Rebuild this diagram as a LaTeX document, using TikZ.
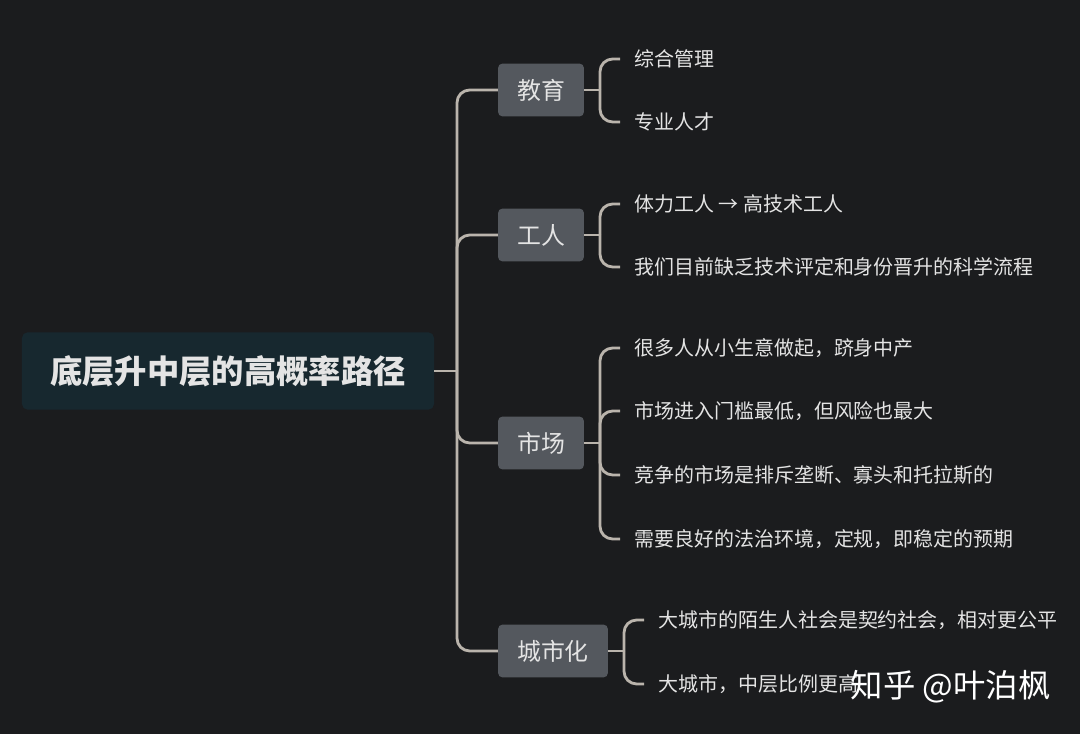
\documentclass[tikz,border=0pt]{standalone}
\usepackage{fontspec}
\setmainfont{Noto Sans CJK SC}
\usetikzlibrary{positioning}
\definecolor{bgdark}{RGB}{27,28,30}
\definecolor{rootfill}{RGB}{23,40,47}
\definecolor{topicfill}{RGB}{84,88,94}
\definecolor{wire}{RGB}{186,180,172}
\definecolor{ink}{RGB}{228,228,228}
\tikzset{
  rootbox/.style={fill=rootfill,rounded corners=4pt,text=ink,font=\fontsize{23}{26}\selectfont\bfseries,
    inner xsep=20pt,minimum height=55pt},
  topic/.style={fill=topicfill,rounded corners=3pt,text=ink,font=\fontsize{17}{20}\selectfont,
    inner xsep=13.5pt,minimum height=37.5pt},
  leaf/.style={anchor=west,text=ink,font=\fontsize{14.2}{16}\selectfont,inner xsep=10pt,inner ysep=2pt},
  link/.style={draw=wire,line width=2pt},
  curvelink/.style={link,rounded corners=9pt},
  wmark/.style={text=white,font=\fontsize{23}{26}\selectfont},
}
\begin{document}
\begin{tikzpicture}[x=0.025cm,y=-0.025cm]
  \fill[bgdark] (0,0) rectangle (1080,734);
  \useasboundingbox (0,0) rectangle (1080,734);
  % centre and the four topics
  \node[rootbox] (root) at (228,371) {底层升中层的高概率路径};
  \node[topic] (edu) at (541,90) {教育};
  \node[topic] (wrk) at (541,235) {工人};
  \node[topic] (mkt) at (541,443) {市场};
  \node[topic] (city) at (553,651) {城市化};
  \coordinate (trunk) at (457,371);
  \draw[link] (root.east) -- (trunk);
  \foreach \t in {edu,wrk,mkt,city}
    \draw[curvelink] (trunk) |- (\t.west);
  % leaves
  \node[leaf] (e1) at (620,59) {综合管理};
  \node[leaf] (e2) at (620,122) {专业人才};
  \node[leaf] (w1) at (620,204) {体力工人 → 高技术工人};
  \node[leaf] (w2) at (620,267) {我们目前缺乏技术评定和身份晋升的科学流程};
  \node[leaf] (m1) at (620,348) {很多人从小生意做起，跻身中产};
  \node[leaf] (m2) at (620,411) {市场进入门槛最低，但风险也最大};
  \node[leaf] (m3) at (620,475) {竞争的市场是排斥垄断、寡头和托拉斯的};
  \node[leaf] (m4) at (620,539) {需要良好的法治环境，定规，即稳定的预期};
  \node[leaf] (c1) at (644,620) {大城市的陌生人社会是契约社会，相对更公平};
  \node[leaf] (c2) at (644,684) {大城市，中层比例更高};
  \coordinate (eduj) at (600,90);
  \coordinate (wrkj) at (600,235);
  \coordinate (mktj) at (600,443);
  \coordinate (cityj) at (624,651);
  \draw[link] (edu.east) -- (eduj);
  \draw[link] (wrk.east) -- (wrkj);
  \draw[link] (mkt.east) -- (mktj);
  \draw[link] (city.east) -- (cityj);
  \foreach \l in {e1,e2} \draw[curvelink] (eduj) |- (\l.west);
  \foreach \l in {w1,w2} \draw[curvelink] (wrkj) |- (\l.west);
  \foreach \l in {m1,m2,m3,m4} \draw[curvelink] (mktj) |- (\l.west);
  \foreach \l in {c1,c2} \draw[curvelink] (cityj) |- (\l.west);
  % watermark
  \node[wmark,anchor=west] (wm) at (846,687) {知乎 @叶泊枫};
\end{tikzpicture}
\end{document}
